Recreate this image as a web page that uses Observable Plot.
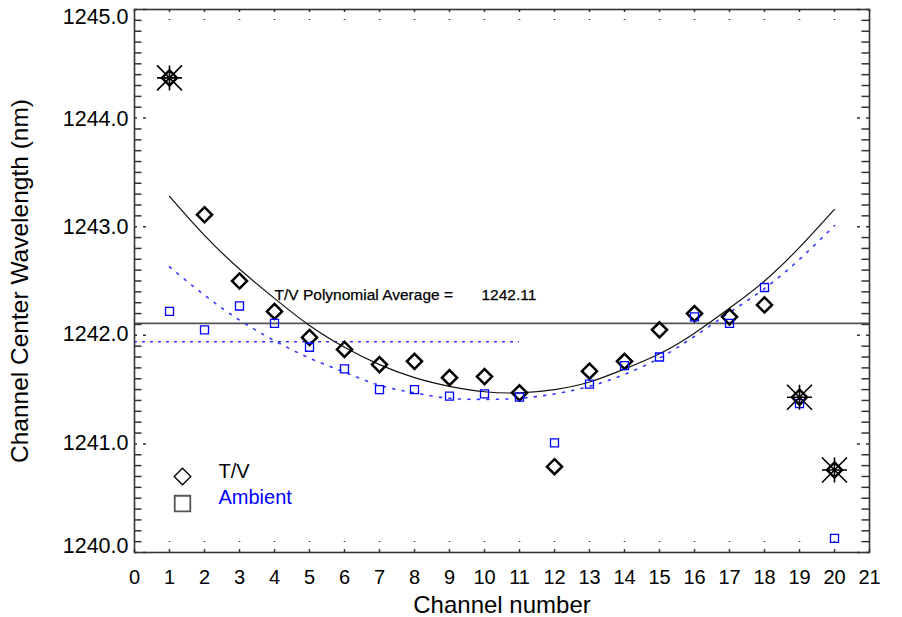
<!DOCTYPE html>
<html><head><meta charset="utf-8">
<script src="https://cdn.jsdelivr.net/npm/d3@7"></script>
<script src="https://cdn.jsdelivr.net/npm/@observablehq/plot@0.6"></script>
<style>
html,body{margin:0;padding:0;background:#fff;}
#chart svg{display:block;}
</style></head><body><div id="chart"></div>
<script>
// ---- data ----
const channels = d3.range(1, 21);
const tvCenter = [1244.37, 1243.11, 1242.50, 1242.22, 1241.98, 1241.87, 1241.73, 1241.76, 1241.61, 1241.62,
                  1241.47, 1240.79, 1241.67, 1241.76, 1242.05, 1242.20, 1242.17, 1242.28, 1241.43, 1240.76];
const ambientCenter = [1242.22, 1242.05, 1242.27, 1242.11, 1241.89, 1241.69, 1241.50, 1241.50, 1241.44, 1241.46,
                       1241.43, 1241.01, 1241.55, 1241.72, 1241.80, 1242.17, 1242.11, 1242.44, 1241.37, 1240.13];
const tvFit = [1243.28, 1242.92, 1242.61, 1242.34, 1242.09, 1241.89, 1241.73, 1241.61, 1241.53, 1241.48,
               1241.47, 1241.50, 1241.57, 1241.69, 1241.83, 1242.02, 1242.25, 1242.50, 1242.81, 1243.16];
const ambientFit = [1242.63, 1242.37, 1242.14, 1241.95, 1241.79, 1241.66, 1241.54, 1241.47, 1241.42, 1241.41,
                    1241.42, 1241.46, 1241.53, 1241.64, 1241.79, 1241.99, 1242.21, 1242.43, 1242.70, 1243.01];
const rejectedChannels = [1, 19, 20];
const tvAverage = 1242.11;
const ambientAverage = 1241.94;
const ambientAverageSpan = [0, 11];
const annotationLabel = "T/V Polynomial Average =";
const annotationChannel = 4;
const legendLabels = ["T/V", "Ambient"];
const xTicks = d3.range(0, 22);
const yMajorTicks = [1245, 1244, 1243, 1242, 1241, 1240];
const yMinorTicks = d3.range(1, 50).filter(i => i % 10 !== 0).map(i => 1240 + i / 10);
const xTitle = "Channel number";
const yTitle = "Channel Center Wavelength (nm)";

// ---- layout / style ----
const W = 902, H = 617, mL = 134, mR = 33, mT = 9, mB = 65;
const innerW = W - mL - mR, innerH = H - mT - mB;
const FONT = "'Liberation Sans', Arial, Helvetica, sans-serif";
const BLUE = "#0000ff", BLUE_LINE = "#3434ff", AXIS = "#333";
// vertical nudges of the y tick labels (top to bottom), as IDL draws them
const yLabelNudge = [8, 1.5, 0, -1, -1, -6];

const tvRows = channels.map((c, i) => ({c, v: tvCenter[i]}));
const ambRows = channels.map((c, i) => ({c, v: ambientCenter[i]}));
const tvFitRows = channels.map((c, i) => ({c, v: tvFit[i]}));
const ambFitRows = channels.map((c, i) => ({c, v: ambientFit[i]}));
const rejRows = rejectedChannels.map(c => ({c, v: tvCenter[c - 1]}));

// IDL-like asterisk: plus + X
const asterisk8 = {
  draw(ctx, size) {
    const r = Math.sqrt(size / Math.PI);
    ctx.moveTo(-r, -r); ctx.lineTo(r, r);
    ctx.moveTo(-r, r); ctx.lineTo(r, -r);
    ctx.moveTo(0, -r); ctx.lineTo(0, r);
    ctx.moveTo(-r, 0); ctx.lineTo(r, 0);
  }
};

const yLabelMarks = yMajorTicks.map((t, k) =>
  Plot.axisY({ticks: [t], tickSize: 0, tickPadding: 6, tickFormat: d => d.toFixed(1),
              fontSize: 21.5, label: null, dy: yLabelNudge[k]}));

const chart = Plot.plot({
  width: W, height: H,
  marginLeft: mL, marginRight: mR, marginTop: mT, marginBottom: mB,
  style: {fontFamily: FONT, background: "#fff", color: "#000"},
  x: {domain: [0, 21], axis: null},
  y: {domain: [1240, 1245], axis: null},
  marks: [
    // fits and averages
    Plot.ruleY([tvAverage], {stroke: "#555", strokeWidth: 1.6}),
    Plot.ruleY([{y: ambientAverage, x1: ambientAverageSpan[0], x2: ambientAverageSpan[1]}],
      {y: "y", x1: "x1", x2: "x2", stroke: BLUE_LINE, strokeWidth: 1.5, strokeDasharray: "3,5"}),
    Plot.line(tvFitRows, {x: "c", y: "v", curve: "natural", stroke: "#111", strokeWidth: 1.2}),
    Plot.line(ambFitRows, {x: "c", y: "v", curve: "natural", stroke: BLUE_LINE, strokeWidth: 1.6, strokeDasharray: "2,7.5"}),
    // markers
    Plot.dot(tvRows, {x: "c", y: "v", symbol: "diamond2", r: 6.8, stroke: "#000", fill: "none", strokeWidth: 2.5, strokeLinejoin: "miter"}),
    Plot.dot(ambRows, {x: "c", y: "v", symbol: "square2", r: 5.1, stroke: BLUE, fill: "none", strokeWidth: 1.3}),
    Plot.dot(rejRows, {x: "c", y: "v", symbol: asterisk8, r: 12.5, stroke: "#000", fill: "none", strokeWidth: 1.6}),
    // annotation
    Plot.text([tvAverage], {x: annotationChannel, y: d => d, text: () => annotationLabel, textAnchor: "start",
      dy: -28, fontSize: 15.5, fill: "#000", stroke: "#000", strokeWidth: 0.25}),
    Plot.text([tvAverage], {x: annotationChannel, y: d => d, text: d => d.toFixed(2), textAnchor: "start",
      dx: 207, dy: -28, fontSize: 15.5, fill: "#000", stroke: "#000", strokeWidth: 0.25}),
    // legend
    Plot.dot([0], {frameAnchor: "bottom-left", dx: 48, dy: -76, symbol: "diamond2", r: 7.5, stroke: "#000", fill: "none", strokeWidth: 1.3}),
    Plot.dot([0], {frameAnchor: "bottom-left", dx: 48, dy: -49, symbol: "square2", r: 9.9, stroke: "#555", fill: "none", strokeWidth: 1.8}),
    Plot.text([legendLabels[0]], {frameAnchor: "bottom-left", dx: 84, dy: -81, textAnchor: "start", lineAnchor: "middle", fontSize: 20, fill: "#000"}),
    Plot.text([legendLabels[1]], {frameAnchor: "bottom-left", dx: 84, dy: -55, textAnchor: "start", lineAnchor: "middle", fontSize: 20, fill: BLUE}),
    // ticks (inward, IDL style)
    Plot.tickY(yMinorTicks, {y: d => d, insetRight: innerW - 7.5, stroke: AXIS, strokeWidth: 1.5}),
    Plot.tickY(yMinorTicks, {y: d => d, insetLeft: innerW - 7.5, stroke: AXIS, strokeWidth: 1.5}),
    Plot.tickY(yMajorTicks, {y: d => d, insetRight: innerW - 12, stroke: AXIS, strokeWidth: 1.5, strokeDasharray: "3,6,3"}),
    Plot.tickY(yMajorTicks, {y: d => d, insetLeft: innerW - 12, stroke: AXIS, strokeWidth: 1.5, strokeDasharray: "3,6,3"}),
    Plot.tickX(xTicks, {x: d => d, insetTop: innerH - 11, stroke: AXIS, strokeWidth: 1.5, strokeDasharray: "1,7,3"}),
    Plot.tickX(xTicks, {x: d => d, insetBottom: innerH - 11, stroke: AXIS, strokeWidth: 1.5, strokeDasharray: "3,7,1"}),
    Plot.frame({stroke: AXIS, strokeWidth: 1.6}),
    // axes labels
    ...yLabelMarks,
    Plot.axisX({ticks: xTicks, tickSize: 0, tickPadding: 17, tickFormat: d => String(d), fontSize: 20, label: null}),
    Plot.text([xTitle], {frameAnchor: "bottom", dy: 53, lineAnchor: "middle", textAnchor: "middle", fontSize: 24, fill: "#000"}),
    Plot.text([yTitle], {frameAnchor: "left", dx: -114, rotate: -90, lineAnchor: "middle", textAnchor: "middle", fontSize: 24.5, fill: "#000"})
  ]
});
document.getElementById("chart").appendChild(chart);
</script>
</body></html>
